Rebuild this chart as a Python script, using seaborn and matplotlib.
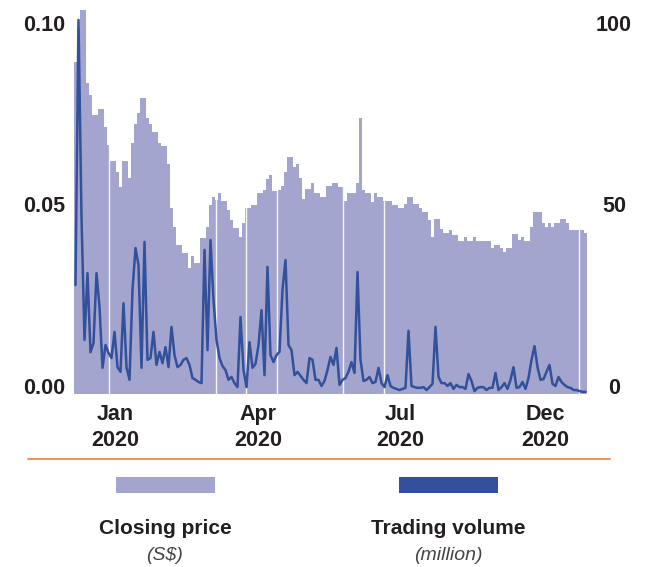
import matplotlib
matplotlib.use("Agg")
import matplotlib.pyplot as plt
import seaborn as sns
import numpy as np
import pandas as pd
from matplotlib.patches import Rectangle
from matplotlib.lines import Line2D

# ---------------- data ----------------
price = [
    0.0915, 0.1008, 0.1058, 0.1058, 0.0857, 0.0824, 0.0769, 0.0769, 0.0785, 0.0785,
    0.0736, 0.0686, 0.0642, 0.0642, 0.0612, 0.0570, 0.0642, 0.0642, 0.0595, 0.0691,
    0.0744, 0.0774, 0.0815, 0.0815, 0.0760, 0.0744, 0.0722, 0.0722, 0.0691, 0.0683,
    0.0683, 0.0634, 0.0512, 0.0460, 0.0410, 0.0410, 0.0388, 0.0388, 0.0347, 0.0380,
    0.0361, 0.0361, 0.0430, 0.0430, 0.0460, 0.0521, 0.0543, 0.0534, 0.0554, 0.0532,
    0.0532, 0.0507, 0.0479, 0.0457, 0.0457, 0.0433, 0.0471, 0.0512, 0.0512, 0.0521,
    0.0521, 0.0554, 0.0554, 0.0562, 0.0592, 0.0603, 0.0559, 0.0559, 0.0562, 0.0573,
    0.0612, 0.0653, 0.0653, 0.0625, 0.0634, 0.0595, 0.0537, 0.0565, 0.0565, 0.0581,
    0.0554, 0.0554, 0.0543, 0.0543, 0.0573, 0.0573, 0.0581, 0.0581, 0.0570, 0.0570,
    0.0532, 0.0554, 0.0554, 0.0554, 0.0581, 0.0760, 0.0562, 0.0554, 0.0554, 0.0529,
    0.0554, 0.0543, 0.0543, 0.0532, 0.0532, 0.0532, 0.0521, 0.0521, 0.0512, 0.0512,
    0.0523, 0.0543, 0.0543, 0.0523, 0.0523, 0.0512, 0.0501, 0.0501, 0.0479, 0.0433,
    0.0482, 0.0482, 0.0455, 0.0444, 0.0444, 0.0452, 0.0438, 0.0438, 0.0421, 0.0421,
    0.0433, 0.0421, 0.0421, 0.0433, 0.0421, 0.0421, 0.0421, 0.0421, 0.0421, 0.0402,
    0.0410, 0.0410, 0.0402, 0.0391, 0.0402, 0.0402, 0.0441, 0.0441, 0.0424, 0.0433,
    0.0421, 0.0421, 0.0460, 0.0501, 0.0501, 0.0501, 0.0471, 0.0460, 0.0471, 0.0460,
    0.0471, 0.0471, 0.0482, 0.0482, 0.0471, 0.0452, 0.0452, 0.0452, 0.0452, 0.0452,
    0.0444,
]

volume = [
    30, 103, 48.8, 14.9, 33.3, 11.5, 14, 33.3, 24, 7.2,
    13.5, 11.3, 9.9, 17.1, 7.4, 6.1, 25, 7.4, 3.9, 28.7,
    40.2, 35.5, 7.2, 41.9, 9.4, 9.9, 17.1, 8, 11.6, 8.5,
    12.9, 7.4, 18.5, 10.7, 7.4, 8, 9.4, 9.9, 8, 4.4,
    3.9, 3.3, 3, 39.7, 12.1, 42.4, 25.9, 14.9, 9.9, 7.7,
    6.6, 3.9, 4.7, 3, 1.9, 21.2, 6.6, 1.9, 14.3, 7.2,
    8.3, 13.5, 23.1, 5.2, 35, 10.7, 8.8, 10.7, 11.6, 28.7,
    36.9, 13.5, 12.1, 5.2, 6.1, 5, 3.9, 3, 9.9, 9.4,
    3.9, 3.9, 2.2, 3.6, 6.6, 10.2, 8, 12.7, 2.5, 3.9,
    4.4, 6.1, 8.8, 5.8, 33.6, 9.4, 3.6, 3.9, 4.7, 3,
    3.3, 7.2, 3, 1.9, 5.2, 2.2, 1.7, 1.4, 1.1, 1.4,
    1.7, 17.4, 2.2, 1.9, 1.7, 1.7, 1.9, 1.1, 1.9, 2.8,
    18.5, 4.7, 3, 3, 2.2, 3, 1.4, 2.5, 1.9, 1.9,
    1.4, 5.5, 3.6, 0.8, 1.7, 1.9, 1.9, 1.1, 1.7, 1.7,
    5.8, 1.1, 1.9, 3, 1.4, 3.9, 7.4, 1.7, 1.9, 3.3,
    1.4, 4.4, 9.4, 13.2, 7.4, 3.9, 4.1, 6.1, 8, 2.8,
    2.2, 4.7, 3.3, 2.5, 1.9, 1.7, 1.1, 1.1, 0.8, 0.6,
    0.6,
]

# positions (trading-day index) where the price series shows a one-day gap
gap_days = [11.27, 46.73, 56.73, 67.07, 89.27, 102.93, 167.83]

x_tick_days = [13.2, 60.8, 108.2, 156.5]
x_tick_labels = ["Jan\n2020", "Apr\n2020", "Jul\n2020", "Dec\n2020"]
price_ticks = [0.0, 0.05, 0.10]
price_tick_labels = ["0.00", "0.05", "0.10"]
vol_ticks = [0, 50, 100]
vol_tick_labels = ["0", "50", "100"]
legend_names = ["Closing price", "Trading volume"]
legend_units = ["(S$)", "(million)"]

PRICE_C = "#a3a5ce"
VOL_C = "#33509b"
TEXT_C = "#231f20"
ORANGE = "#ef8a45"

# ---------------- plot ----------------
sns.set_theme(style="white")
plt.rcParams["font.family"] = ["Liberation Sans", "DejaVu Sans"]

W, H = 645, 567
fig = plt.figure(figsize=(W / 100, H / 100), dpi=100)
ax = fig.add_axes([74 / W, 1 - 394 / H, 513 / W, 386 / H])

days = np.arange(len(price))
df = pd.DataFrame({"day": days, "price": price, "volume": volume})

sns.histplot(data=df, x="day", weights="price", discrete=True, element="step",
             fill=True, color=PRICE_C, alpha=1, linewidth=0, ax=ax)
for g in gap_days:
    ax.axvline(g, color="white", lw=1.0, alpha=0.9, zorder=3)

ax.set_xlim(-0.5, len(price) - 0.5)
ax.set_ylim(0, 0.1063)
ax.set_ylabel("")
ax.set_xlabel("")

ax2 = ax.twinx()
sns.lineplot(data=df, x="day", y="volume", ax=ax2, color=VOL_C, linewidth=1.8)
ax2.set_ylim(0, 106.3)
ax2.set_ylabel("")
ax2.set_xlabel("")
ax2.set_xlim(-0.5, len(price) - 0.5)

for a in (ax, ax2):
    for s in a.spines.values():
        s.set_visible(False)
    a.grid(False)

ax.set_xticks(x_tick_days)
ax.set_xticklabels(x_tick_labels, fontsize=15.5, fontweight="bold", color=TEXT_C,
                   linespacing=1.3)
ax.tick_params(axis="x", length=0, pad=7.5)

ax.set_yticks(price_ticks)
ax.set_yticklabels(price_tick_labels, fontsize=15.5, fontweight="bold", color=TEXT_C,
                   va="baseline")
ax.tick_params(axis="y", length=0, pad=6.5)

ax2.set_yticks(vol_ticks)
ax2.set_yticklabels(vol_tick_labels, fontsize=15.5, fontweight="bold", color=TEXT_C,
                    va="baseline", ha="center")
ax2.tick_params(axis="y", length=0, pad=19.5)

# separator line
fig.add_artist(Line2D([28 / W, 610 / W], [1 - 459 / H, 1 - 459 / H],
                      color=ORANGE, lw=1.3, transform=fig.transFigure))

# legend
legend_colors = [PRICE_C, VOL_C]
legend_x = [165, 448]
for name, unit, col, cx in zip(legend_names, legend_units, legend_colors, legend_x):
    fig.patches.append(Rectangle(((cx - 49.5) / W, 1 - 493 / H), 99 / W, 16 / H,
                                 transform=fig.transFigure, facecolor=col,
                                 edgecolor="none"))
    fig.text(cx / W, 1 - 528 / H, name, ha="center", va="center",
             fontsize=15, fontweight="bold", color=TEXT_C)
    fig.text(cx / W, 1 - 555 / H, unit, ha="center", va="center",
             fontsize=14, style="italic", color="#444444")

fig.savefig("out.png", dpi=100)
